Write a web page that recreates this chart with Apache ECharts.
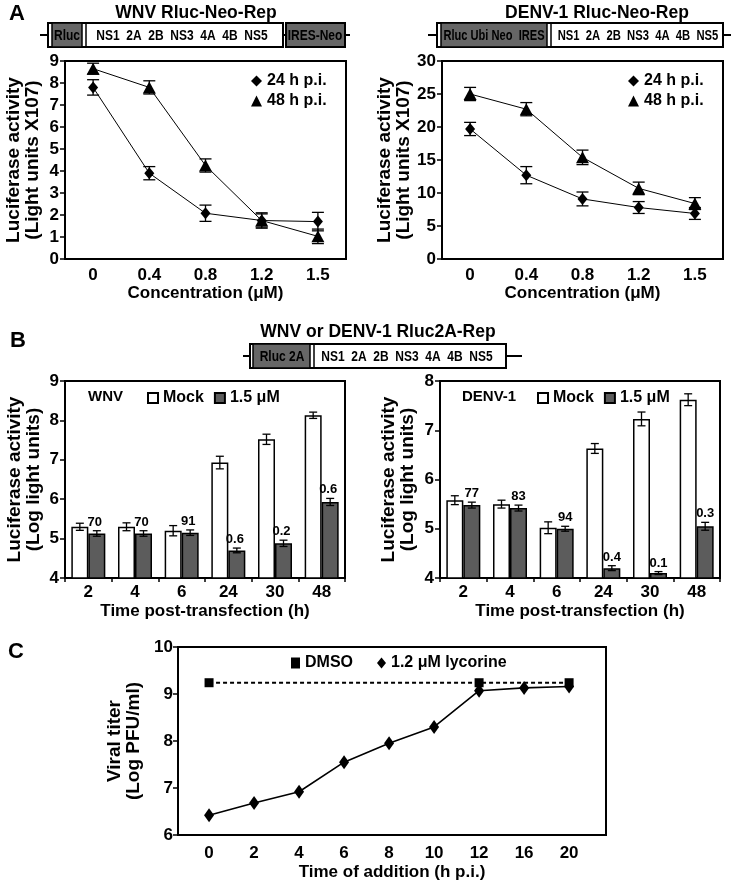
<!DOCTYPE html>
<html><head><meta charset="utf-8">
<script src="https://cdn.jsdelivr.net/npm/echarts@6/dist/echarts.min.js"></script>
<style>html,body{margin:0;padding:0;background:#fff}#c{width:739px;height:883px}</style>
</head><body><div id="c"></div>
<script>
// ---------- data ----------
const concLabels = ['0', '0.4', '0.8', '1.2', '1.5'];
const wnv24 = [7.8, 3.9, 2.08, 1.75, 1.7];
const wnv24Err = [0.35, 0.3, 0.37, 0.3, 0.42];
const wnv48 = [8.65, 7.8, 4.25, 1.75, 1.03];
const wnv48Err = [0.25, 0.3, 0.3, 0.35, 0.33];
const denv24 = [19.7, 12.7, 9.1, 7.8, 6.9];
const denv24Err = [1.0, 1.3, 1.05, 0.9, 0.9];
const denv48 = [25.0, 22.7, 15.4, 10.7, 8.4];
const denv48Err = [1.0, 1.0, 1.1, 0.95, 0.9];

const timeLabels = ['2', '4', '6', '24', '30', '48'];
const wnvMock = [5.3, 5.3, 5.2, 6.93, 7.52, 8.13];
const wnvMockErr = [0.09, 0.1, 0.13, 0.16, 0.13, 0.08];
const wnvTreat = [5.13, 5.13, 5.15, 4.7, 4.88, 5.93];
const wnvTreatErr = [0.07, 0.07, 0.07, 0.06, 0.08, 0.09];
const wnvPct = ['70', '70', '91', '0.6', '0.2', '0.6'];
const denvMock = [5.58, 5.5, 5.02, 6.63, 7.23, 7.62];
const denvMockErr = [0.09, 0.08, 0.12, 0.1, 0.14, 0.12];
const denvTreat = [5.48, 5.42, 5.0, 4.2, 4.1, 5.05];
const denvTreatErr = [0.06, 0.06, 0.05, 0.05, 0.03, 0.08];
const denvPct = ['77', '83', '94', '0.4', '0.1', '0.3'];

const addTimes = ['0', '2', '4', '6', '8', '10', '12', '16', '20'];
const lycorine = [6.42, 6.68, 6.92, 7.55, 7.95, 8.3, 9.07, 9.13, 9.16];
const dmsoTimes = ['0', '12', '20'];
const dmso = [9.24, 9.24, 9.24];

// ---------- helpers ----------
const F = '"Liberation Sans", Arial, Helvetica, sans-serif';
const DARK = '#5c5c5c';
function txt(x, y, s, size, sx) {
  return { type: 'text', x: x, y: y, scaleX: sx || 1, z: 10,
    style: { text: s, x: 0, y: 0, align: 'center', verticalAlign: 'middle', font: 'bold ' + size + 'px ' + F, fill: '#000' } };
}
function rect(x, y, w, h, fill, lw) {
  return { type: 'rect', z: 5, shape: { x: x, y: y, width: w, height: h }, style: { fill: fill, stroke: '#000', lineWidth: lw || 2 } };
}
function ln(x1, y1, x2, y2, lw, z) {
  return { type: 'line', z: z || 6, shape: { x1: x1, y1: y1, x2: x2, y2: y2 }, style: { stroke: '#000', lineWidth: lw || 2 } };
}
function errSeries(xi, yi, vals, errs, opts) {
  return {
    type: 'custom', xAxisIndex: xi, yAxisIndex: yi, z: 6, silent: true,
    encode: { x: 0, y: 1 },
    data: vals.map((v, i) => [i, v, errs[i]]),
    renderItem: function (params, api) {
      const i = api.value(0), v = api.value(1), e = api.value(2);
      const p1 = api.coord([i, v + e]), p0 = api.coord([i, v - e]);
      const x = p1[0] + opts.dx, c = opts.cap, s = { stroke: '#000', lineWidth: opts.lw || 1.3 };
      const ch = [
        { type: 'line', shape: { x1: x, y1: p1[1], x2: x, y2: p0[1] }, style: s },
        { type: 'line', shape: { x1: x - c, y1: p1[1], x2: x + c, y2: p1[1] }, style: s },
        { type: 'line', shape: { x1: x - c, y1: p0[1], x2: x + c, y2: p0[1] }, style: s }
      ];
      if (opts.labels) {
        ch.push({ type: 'text', style: { text: opts.labels[params.dataIndex], x: x + opts.ldx, y: p1[1] - 2,
          align: 'center', verticalAlign: 'bottom', font: 'bold 13px ' + F, fill: '#000' } });
      }
      return { type: 'group', children: ch };
    }
  };
}

const axisLine = { show: true, onZero: false, lineStyle: { color: '#000', width: 2 } };
const tickLbl = { color: '#000', fontWeight: 'bold', fontSize: 17, fontFamily: F };
const nameStyle = { color: '#000', fontWeight: 'bold', fontSize: 17, fontFamily: F };
const yNameStyle = { color: '#000', fontWeight: 'bold', fontSize: 19, fontFamily: F, lineHeight: 19 };
const legendText = { color: '#000', fontWeight: 'bold', fontSize: 16, fontFamily: F };

function gridBox(l, t, w, h) {
  return { left: l, top: t, width: w, height: h, show: true, borderColor: '#000', borderWidth: 2, containLabel: false };
}

const option = {
  animation: false,
  textStyle: { fontFamily: F },
  grid: [
    gridBox(65, 61, 281, 198),
    gridBox(442, 61, 281, 198),
    gridBox(65, 381, 280, 197),
    gridBox(440, 381, 280, 197),
    gridBox(178, 647, 428, 188)
  ],
  xAxis: [
    { type: 'category', gridIndex: 0, data: concLabels, axisLine: axisLine, axisTick: { show: false },
      axisLabel: Object.assign({ margin: 8 }, tickLbl), name: 'Concentration (μM)', nameLocation: 'middle', nameGap: 25, nameTextStyle: nameStyle },
    { type: 'category', gridIndex: 1, data: concLabels, axisLine: axisLine, axisTick: { show: false },
      axisLabel: Object.assign({ margin: 8 }, tickLbl), name: 'Concentration (μM)', nameLocation: 'middle', nameGap: 25, nameTextStyle: nameStyle },
    { type: 'category', gridIndex: 2, data: timeLabels, axisLine: axisLine,
      axisTick: { show: true, length: 4, lineStyle: { width: 1.5, color: '#000' } },
      axisLabel: Object.assign({ margin: 6 }, tickLbl), name: 'Time post-transfection (h)', nameLocation: 'middle', nameGap: 25, nameTextStyle: nameStyle },
    { type: 'category', gridIndex: 3, data: timeLabels, axisLine: axisLine,
      axisTick: { show: true, length: 4, lineStyle: { width: 1.5, color: '#000' } },
      axisLabel: Object.assign({ margin: 6 }, tickLbl), name: 'Time post-transfection (h)', nameLocation: 'middle', nameGap: 25, nameTextStyle: nameStyle },
    { type: 'value', gridIndex: 4, min: -0.69, max: 8.82, axisLine: axisLine, axisTick: { show: false }, splitLine: { show: false },
      axisLabel: Object.assign({ margin: 10, customValues: addTimes.map((t, i) => i), formatter: v => addTimes[Math.round(v)] }, tickLbl),
      name: 'Time of addition (h p.i.)', nameLocation: 'middle', nameGap: 29, nameTextStyle: nameStyle }
  ],
  yAxis: [
    { type: 'value', gridIndex: 0, min: 0, max: 9, interval: 1, axisLine: axisLine, splitLine: { show: false },
      axisTick: { show: true, length: 5, lineStyle: { width: 1.5, color: '#000' } }, axisLabel: Object.assign({ margin: 6 }, tickLbl),
      name: 'Luciferase activity\n(Light units X107)', nameLocation: 'middle', nameGap: 23, nameTextStyle: yNameStyle },
    { type: 'value', gridIndex: 1, min: 0, max: 30, interval: 5, axisLine: axisLine, splitLine: { show: false },
      axisTick: { show: true, length: 5, lineStyle: { width: 1.5, color: '#000' } }, axisLabel: Object.assign({ margin: 6 }, tickLbl),
      name: 'Luciferase activity\n(Light units X107)', nameLocation: 'middle', nameGap: 27, nameTextStyle: yNameStyle },
    { type: 'value', gridIndex: 2, min: 4, max: 9, interval: 1, axisLine: axisLine, splitLine: { show: false },
      axisTick: { show: true, length: 5, lineStyle: { width: 1.5, color: '#000' } }, axisLabel: Object.assign({ margin: 6 }, tickLbl),
      name: 'Luciferase activity\n(Log light units)', nameLocation: 'middle', nameGap: 22, nameTextStyle: yNameStyle },
    { type: 'value', gridIndex: 3, min: 4, max: 8, interval: 1, axisLine: axisLine, splitLine: { show: false },
      axisTick: { show: true, length: 5, lineStyle: { width: 1.5, color: '#000' } }, axisLabel: Object.assign({ margin: 6 }, tickLbl),
      name: 'Luciferase activity\n(Log light units)', nameLocation: 'middle', nameGap: 23, nameTextStyle: yNameStyle },
    { type: 'value', gridIndex: 4, min: 6, max: 10, interval: 1, axisLine: axisLine, splitLine: { show: false },
      axisTick: { show: true, length: 5, lineStyle: { width: 1.5, color: '#000' } }, axisLabel: Object.assign({ margin: 5 }, tickLbl),
      name: 'Viral titer\n(Log PFU/ml)', nameLocation: 'middle', nameGap: 22, nameTextStyle: yNameStyle }
  ],
  legend: [
    { data: [{ name: '24 h p.i.', icon: 'diamond' }, { name: '48 h p.i.', icon: 'triangle' }], orient: 'vertical',
      left: 251, top: 73, padding: 0, itemWidth: 11, itemHeight: 11, itemGap: 4, selectedMode: false, textStyle: legendText },
    { data: [{ name: '24 h p.i.', icon: 'diamond' }, { name: '48 h p.i.', icon: 'triangle' }], orient: 'vertical',
      left: 628, top: 73, padding: 0, itemWidth: 11, itemHeight: 11, itemGap: 4, selectedMode: false, textStyle: legendText },
    { data: [{ name: 'Mock', icon: 'rect' }, { name: '1.5 μM', icon: 'rect' }], left: 147, top: 390, padding: 0,
      itemWidth: 10, itemHeight: 10, itemGap: 10, selectedMode: false, textStyle: legendText },
    { data: [{ name: 'Mock', icon: 'rect' }, { name: '1.5 μM', icon: 'rect' }], left: 537, top: 390, padding: 0,
      itemWidth: 10, itemHeight: 10, itemGap: 10, selectedMode: false, textStyle: legendText },
    { data: [{ name: 'DMSO', icon: 'rect' }, { name: '1.2 μM lycorine', icon: 'diamond' }], left: 291, top: 655, padding: 0,
      itemWidth: 9, itemHeight: 11, itemGap: 24, selectedMode: false, textStyle: legendText }
  ],
  series: [
    // Panel A left
    { type: 'line', name: '24 h p.i.', xAxisIndex: 0, yAxisIndex: 0, data: wnv24, symbol: 'diamond', symbolSize: [10, 12],
      itemStyle: { color: '#000' }, lineStyle: { color: '#000', width: 1 }, z: 4 },
    { type: 'line', name: '48 h p.i.', xAxisIndex: 0, yAxisIndex: 0, data: wnv48, symbol: 'triangle', symbolSize: [13, 12],
      itemStyle: { color: '#000' }, lineStyle: { color: '#000', width: 1 }, z: 4 },
    errSeries(0, 0, wnv24, wnv24Err, { dx: 0, cap: 6 }),
    errSeries(0, 0, wnv48, wnv48Err, { dx: 0, cap: 6 }),
    // Panel A right
    { type: 'line', name: '24 h p.i.', xAxisIndex: 1, yAxisIndex: 1, data: denv24, symbol: 'diamond', symbolSize: [10, 12],
      itemStyle: { color: '#000' }, lineStyle: { color: '#000', width: 1 }, z: 4 },
    { type: 'line', name: '48 h p.i.', xAxisIndex: 1, yAxisIndex: 1, data: denv48, symbol: 'triangle', symbolSize: [13, 12],
      itemStyle: { color: '#000' }, lineStyle: { color: '#000', width: 1 }, z: 4 },
    errSeries(1, 1, denv24, denv24Err, { dx: 0, cap: 6 }),
    errSeries(1, 1, denv48, denv48Err, { dx: 0, cap: 6 }),
    // Panel B left
    { type: 'bar', name: 'Mock', xAxisIndex: 2, yAxisIndex: 2, data: wnvMock, barWidth: 17, barGap: '0%',
      itemStyle: { color: '#fff', borderColor: '#000', borderWidth: 1.5 } },
    { type: 'bar', name: '1.5 μM', xAxisIndex: 2, yAxisIndex: 2, data: wnvTreat, barWidth: 17, barGap: '0%',
      itemStyle: { color: DARK, borderColor: '#000', borderWidth: 1.5 } },
    errSeries(2, 2, wnvMock, wnvMockErr, { dx: -8.5, cap: 4 }),
    errSeries(2, 2, wnvTreat, wnvTreatErr, { dx: 8.5, cap: 4, labels: wnvPct, ldx: -2 }),
    // Panel B right
    { type: 'bar', name: 'Mock', xAxisIndex: 3, yAxisIndex: 3, data: denvMock, barWidth: 17, barGap: '0%',
      itemStyle: { color: '#fff', borderColor: '#000', borderWidth: 1.5 } },
    { type: 'bar', name: '1.5 μM', xAxisIndex: 3, yAxisIndex: 3, data: denvTreat, barWidth: 17, barGap: '0%',
      itemStyle: { color: DARK, borderColor: '#000', borderWidth: 1.5 } },
    errSeries(3, 3, denvMock, denvMockErr, { dx: -8.5, cap: 4 }),
    errSeries(3, 3, denvTreat, denvTreatErr, { dx: 8.5, cap: 4, labels: denvPct, ldx: 0 }),
    // Panel C
    { type: 'line', name: 'DMSO', xAxisIndex: 4, yAxisIndex: 4,
      data: dmso.map((v, k) => [addTimes.indexOf(dmsoTimes[k]), v]), symbol: 'rect', symbolSize: 9,
      itemStyle: { color: '#000' }, lineStyle: { color: '#000', width: 2, type: [4, 3] }, z: 3 },
    { type: 'line', name: '1.2 μM lycorine', xAxisIndex: 4, yAxisIndex: 4,
      data: lycorine.map((v, i) => [i, v]), symbol: 'diamond', symbolSize: [10, 14],
      itemStyle: { color: '#000' }, lineStyle: { color: '#000', width: 1.6 }, z: 4 }
  ],
  graphic: [
    // panel letters
    txt(17, 14, 'A', 22), txt(18, 341, 'B', 22), txt(16, 652, 'C', 22),
    // Panel A titles
    txt(196, 13, 'WNV Rluc-Neo-Rep', 17.5), txt(597, 13, 'DENV-1 Rluc-Neo-Rep', 17.5),
    // WNV construct
    ln(40, 35, 350, 35, 2, 2), rect(48, 23, 235, 24, '#fff'), rect(52, 23, 30, 24, '#666', 1.5), ln(86, 23, 86, 47, 1.5),
    rect(286, 23, 59, 24, '#666'),
    txt(67, 36, 'Rluc', 15, 0.8), txt(182, 36, 'NS1  2A  2B  NS3  4A  4B  NS5', 15, 0.8), txt(315, 36, 'IRES-Neo', 15, 0.8),
    // DENV construct
    ln(428, 35, 731, 35, 2, 2), rect(437, 23, 286, 24, '#fff'), rect(441, 23, 106, 24, '#666', 1.5), ln(551, 23, 551, 47, 1.5),
    txt(494, 36, 'Rluc Ubi Neo  IRES', 15, 0.74), txt(638, 36, 'NS1  2A  2B  NS3  4A  4B  NS5', 15, 0.75),
    // Panel B construct
    txt(378, 332, 'WNV or DENV-1 Rluc2A-Rep', 17.5),
    ln(243, 356, 522, 356, 2, 2), rect(250, 344, 256, 24, '#fff'), rect(253, 344, 57, 24, '#666', 1.5), ln(314, 344, 314, 368, 1.5),
    txt(282, 357, 'Rluc 2A', 15, 0.8), txt(407, 357, 'NS1  2A  2B  NS3  4A  4B  NS5', 15, 0.8),
    // Panel B inline virus labels
    { type: 'text', x: 88, y: 397, z: 10, style: { text: 'WNV', align: 'left', verticalAlign: 'middle', font: 'bold 15px ' + F, fill: '#000' } },
    { type: 'text', x: 462, y: 397, z: 10, style: { text: 'DENV-1', align: 'left', verticalAlign: 'middle', font: 'bold 15px ' + F, fill: '#000' } }
  ]
};

const chart = echarts.init(document.getElementById('c'), null, { renderer: 'canvas' });
chart.setOption(option);
</script>
</body></html>
